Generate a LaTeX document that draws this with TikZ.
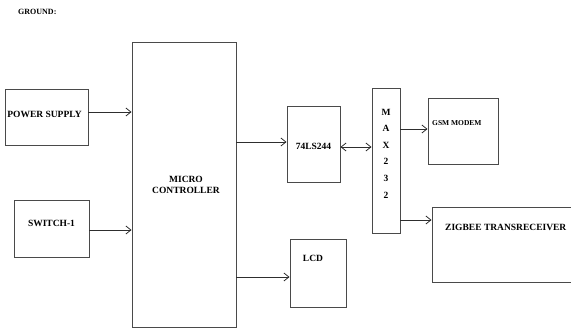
\documentclass[tikz,border=0pt]{standalone}
\usepackage{fontspec}
\setmainfont{Liberation Serif}
\usetikzlibrary{arrows.meta}
\definecolor{boxline}{HTML}{4A4A4A}
\definecolor{arrowline}{HTML}{2E2E2E}

\begin{document}
\begin{tikzpicture}[x=1pt,y=-1pt,
  blk/.style={draw=boxline,line width=0.9pt,inner sep=0pt},
  lbl/.style={font=\fontsize{9.5}{11}\selectfont\bfseries,inner sep=0pt},
  arr/.style={draw=arrowline,line width=0.8pt,
    -{Straight Barb[length=5pt,width=8pt]}},
  biarr/.style={draw=arrowline,line width=0.8pt,
    {Straight Barb[length=5pt,width=8pt]}-{Straight Barb[length=5pt,width=8pt]}}]
  \useasboundingbox (0,0) rectangle (571,329);

  % Heading.
  \node[lbl,font=\fontsize{8}{10}\selectfont\bfseries,anchor=west] (ground)
    at (18,12) {GROUND:};

  % Blocks (pixel coordinates of the reference).
  \node[blk,minimum width=83pt,minimum height=56pt] (ps) at (46.5,117) {};
  \node[blk,minimum width=75pt,minimum height=57pt] (sw) at (51.5,228.5) {};
  \node[blk,minimum width=104pt,minimum height=285pt] (mc) at (184,184.5) {};
  \node[blk,minimum width=53pt,minimum height=76pt] (buf) at (313.5,144) {};
  \node[blk,minimum width=28pt,minimum height=145pt] (max) at (386,160.5) {};
  \node[blk,minimum width=70pt,minimum height=66pt] (gsm) at (463,131) {};
  \node[blk,minimum width=145pt,minimum height=75pt] (zig) at (504.5,244.5) {};
  \node[blk,minimum width=56pt,minimum height=68pt] (lcd) at (318,273) {};

  % Block texts.
  \node[lbl] (pstext) at (44.5,114) {POWER SUPPLY};
  \node[lbl] (swtext) at (51.5,223) {SWITCH-1};
  \node[lbl,align=center] (mctext) at (186,185) {MICRO\\CONTROLLER};
  \node[lbl] (buftext) at (313.5,146) {74LS244};
  \node[lbl,align=center,font=\fontsize{9.5}{16.6}\selectfont\bfseries]
    (maxtext) at (386,153.5) {M\\A\\X\\2\\3\\2};
  \node[lbl,font=\fontsize{7.5}{9}\selectfont\bfseries,anchor=west]
    (gsmtext) at (432,123) {GSM MODEM};
  \node[lbl,anchor=west] (zigtext) at (445,227) {ZIGBEE TRANSRECEIVER};
  \node[lbl] (lcdtext) at (313,258) {LCD};

  % Connection points off the block centres.
  \coordinate (psout) at ([yshift=5pt]ps.east);
  \coordinate (bufin) at ([yshift=2pt]buf.west);
  \coordinate (bufout) at ([yshift=-3pt]buf.east);
  \coordinate (gsmin) at ([yshift=2pt]gsm.west);
  \coordinate (zigin) at ([yshift=24.5pt]zig.west);
  \coordinate (lcdin) at ([yshift=-4pt]lcd.west);

  % Connectors.
  \draw[arr] (psout) -- (psout -| mc.west);
  \draw[arr] ([yshift=-1.5pt]sw.east) -- ([yshift=-1.5pt]sw.east -| mc.west);
  \draw[arr] (mc.east |- bufin) -- (bufin);
  \draw[biarr] (bufout) -- (bufout -| max.west);
  \draw[arr] (max.east |- gsmin) -- (gsmin);
  \draw[arr] (max.east |- zigin) -- (zigin);
  \draw[arr] (mc.east |- lcdin) -- (lcdin);
\end{tikzpicture}
\end{document}
